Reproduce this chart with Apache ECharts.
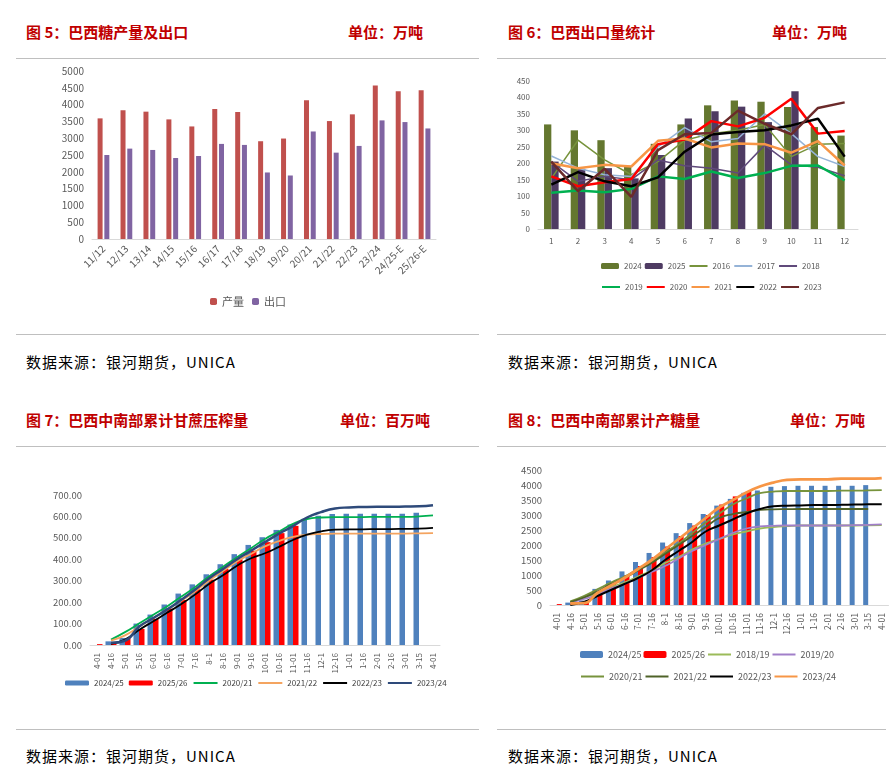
<!DOCTYPE html>
<html>
<head>
<meta charset="utf-8">
<script src="https://cdn.jsdelivr.net/npm/echarts@6/dist/echarts.min.js"></script>
<style>
  body { margin: 0; background: #fff; font-family: "Noto Sans CJK SC", sans-serif; }
  .t { position: absolute; color: #c00000; font-weight: bold; font-size: 15px; line-height: 20px; white-space: nowrap; }
  .s { position: absolute; color: #000; font-size: 15px; line-height: 20px; white-space: nowrap; letter-spacing: 1px; }
  .hr { position: absolute; height: 1px; background: #bfbfbf; }
  .c { position: absolute; }
</style>
</head>
<body>
<div class="t" style="left:26px;top:22px">图 5：巴西糖产量及出口</div>
<div class="t" style="left:348px;top:22px">单位：万吨</div>
<div class="t" style="left:508px;top:22px">图 6：巴西出口量统计</div>
<div class="t" style="left:772px;top:22px">单位：万吨</div>
<div class="hr" style="left:16px;top:58px;width:463px"></div>
<div class="hr" style="left:497px;top:58px;width:389px"></div>

<div class="c" id="c5" style="left:16px;top:60px;width:464px;height:272px"></div>
<div class="c" id="c6" style="left:497px;top:60px;width:390px;height:272px"></div>

<div class="hr" style="left:16px;top:334px;width:463px"></div>
<div class="hr" style="left:497px;top:334px;width:389px"></div>
<div class="s" style="left:26px;top:352px">数据来源：银河期货，UNICA</div>
<div class="s" style="left:508px;top:352px">数据来源：银河期货，UNICA</div>

<div class="t" style="left:26px;top:410px">图 7：巴西中南部累计甘蔗压榨量</div>
<div class="t" style="left:340px;top:410px">单位：百万吨</div>
<div class="t" style="left:508px;top:410px">图 8：巴西中南部累计产糖量</div>
<div class="t" style="left:790px;top:410px">单位：万吨</div>
<div class="hr" style="left:16px;top:446px;width:463px"></div>
<div class="hr" style="left:497px;top:446px;width:389px"></div>

<div class="c" id="c7" style="left:16px;top:448px;width:464px;height:281px"></div>
<div class="c" id="c8" style="left:497px;top:448px;width:397px;height:281px"></div>

<div class="hr" style="left:16px;top:729px;width:463px"></div>
<div class="hr" style="left:497px;top:729px;width:389px"></div>
<div class="s" style="left:26px;top:746px">数据来源：银河期货，UNICA</div>
<div class="s" style="left:508px;top:746px">数据来源：银河期货，UNICA</div>

<script>
// chart 5: production and exports
const seasons = ['11/12', '12/13', '13/14', '14/15', '15/16', '16/17', '17/18', '18/19', '19/20', '20/21', '21/22', '22/23', '23/24', '24/25-E', '25/26-E'];
const production = [3590, 3830, 3790, 3560, 3350, 3870, 3780, 2910, 2990, 4130, 3510, 3710, 4570, 4400, 4430];
const exports = [2500, 2690, 2650, 2410, 2470, 2830, 2800, 1980, 1890, 3200, 2570, 2770, 3530, 3480, 3290];

// chart 6: monthly exports
const months = ['1', '2', '3', '4', '5', '6', '7', '8', '9', '10', '11', '12'];
const exp2024 = [318, 300, 270, 192, 259, 318, 376, 391, 387, 371, 310, 284];
const exp2025 = [205, 183, 185, 154, 225, 336, 358, 372, 325, 419, null, null];
const exp2016 = [154, 270, 210, 165, 205, 270, 290, 300, 318, 220, 258, 260];
const exp2017 = [222, 185, 165, 160, 250, 308, 265, 275, 350, 290, 220, 190];
const exp2018 = [205, 145, 160, 150, 210, 192, 185, 170, 255, 195, 188, 162];
const exp2019 = [110, 117, 112, 122, 160, 152, 175, 155, 170, 192, 193, 148];
const exp2020 = [160, 130, 142, 152, 258, 272, 328, 312, 338, 396, 290, 298];
const exp2021 = [200, 185, 195, 190, 268, 275, 248, 260, 258, 232, 267, 193];
const exp2022 = [135, 173, 145, 130, 157, 235, 287, 295, 300, 315, 335, 220];
const exp2023 = [205, 115, 183, 98, 240, 288, 292, 360, 320, 288, 368, 385];

// charts 7 and 8: half-month periods
const periods = ['4-01', '4-16', '5-01', '5-16', '6-01', '6-16', '7-01', '7-16', '8-1', '8-16', '9-01', '9-16', '10-01', '10-16', '11-01', '11-16', '12-1', '12-16', '1-01', '1-16', '2-01', '2-16', '3-01', '3-15', '4-01'];

// chart 7: cumulative cane crush
const cane2425 = [0, 17, 33, 100, 142, 189, 240, 283, 330, 377, 424, 467, 503, 537, 562, 589, 603, 611, 612, 612, 612, 612, 612, 617, null];
const cane2526 = [4, 10, 30, 75, 122, 170, 210, 260, 305, 355, 400, 440, 480, 522, 556];
const cane2021 = [null, 25, 60, 100, 140, 180, 225, 270, 320, 365, 410, 452, 495, 530, 565, 588, 595, 597, 597, 597, 598, 598, 598, 600, 605];
const cane2122 = [null, 20, 45, 85, 125, 165, 205, 250, 300, 345, 390, 425, 460, 485, 505, 515, 518, 520, 520, 520, 520, 520, 520, 521, 522];
const cane2223 = [null, 5, 25, 70, 110, 150, 190, 235, 285, 325, 370, 405, 428, 458, 490, 515, 530, 538, 540, 540, 541, 541, 542, 543, 547];
const cane2324 = [null, 10, 20, 85, 125, 165, 210, 258, 310, 355, 400, 440, 480, 520, 555, 595, 620, 637, 642, 644, 645, 645, 646, 647, 652];

// chart 8: cumulative sugar output
const sugar2425 = [0, 80, 150, 537, 817, 1120, 1433, 1735, 2082, 2395, 2731, 3034, 3313, 3537, 3739, 3817, 3940, 3963, 3974, 3974, 3974, 3974, 3974, 3996, null];
const sugar2526 = [30, 50, 80, 400, 700, 1000, 1300, 1600, 1950, 2300, 2650, 3000, 3350, 3620, 3800];
const sugar1819 = [null, 100, 250, 400, 600, 750, 950, 1150, 1400, 1600, 1850, 2050, 2200, 2350, 2450, 2550, 2600, 2630, 2650, 2650, 2650, 2650, 2650, 2655, 2660];
const sugar1920 = [null, 80, 200, 350, 550, 700, 900, 1100, 1300, 1550, 1800, 2000, 2200, 2400, 2550, 2620, 2640, 2650, 2650, 2650, 2650, 2650, 2660, 2670, 2690];
const sugar2021 = [null, 120, 300, 520, 750, 950, 1200, 1450, 1750, 2050, 2400, 2750, 3050, 3350, 3550, 3730, 3780, 3800, 3800, 3800, 3800, 3810, 3810, 3820, 3830];
const sugar2122 = [null, 100, 250, 450, 700, 900, 1150, 1400, 1700, 2000, 2300, 2600, 2900, 3030, 3100, 3170, 3190, 3195, 3200, 3200, 3200, 3200, 3200, 3200, null];
const sugar2223 = [null, 0, 100, 300, 500, 700, 900, 1150, 1500, 1800, 2100, 2450, 2650, 2850, 3050, 3200, 3290, 3310, 3320, 3330, 3330, 3340, 3350, 3355, 3360];
const sugar2324 = [null, 50, 60, 400, 650, 900, 1200, 1500, 1850, 2200, 2550, 2900, 3250, 3500, 3750, 3950, 4080, 4170, 4190, 4190, 4190, 4210, 4210, 4210, 4230];

const FONT = '"Noto Sans CJK SC", sans-serif';
const LABEL = '#595959';
const AXIS = '#d9d9d9';

function catAxis(data, fontSize, rotate) {
	return {
		type: 'category',
		data: data,
		axisTick: { show: false },
		axisLine: { lineStyle: { color: AXIS } },
		axisLabel: { color: LABEL, fontSize: fontSize, rotate: rotate, interval: 0, fontFamily: FONT },
	};
}

function valAxis(max, interval, fontSize, formatter) {
	return {
		type: 'value',
		min: 0,
		max: max,
		interval: interval,
		splitLine: { show: false },
		axisLine: { show: false },
		axisLabel: { color: LABEL, fontSize: fontSize, fontFamily: FONT, formatter: formatter || ((v) => String(v)) },
	};
}

function line(name, data, color, width, smooth) {
	return {
		name: name,
		type: 'line',
		data: data,
		symbol: 'none',
		smooth: smooth,
		lineStyle: { color: color, width: width },
		// hide the dot that the legend icon draws in the middle of the line
		itemStyle: { color: color, opacity: 0 },
	};
}

function bar(name, data, color, width) {
	return { name: name, type: 'bar', data: data, barWidth: width, barGap: '0%', itemStyle: { color: color } };
}

function draw(id, option) {
	const chart = echarts.init(document.getElementById(id));
	option.animation = false;
	option.textStyle = { fontFamily: FONT };
	chart.setOption(option);
}

draw('c5', {
	grid: { left: 76, right: 44, top: 11, bottom: 93 },
	legend: {
		top: 231,
		left: 'center',
		itemWidth: 7,
		itemHeight: 7,
		itemGap: 8,
		textStyle: { color: LABEL, fontSize: 11 },
		data: ['产量', '出口'],
	},
	xAxis: catAxis(seasons, 10, 45),
	yAxis: valAxis(5000, 500, 10),
	series: [
		{ name: '产量', type: 'bar', data: production, barWidth: 5, barGap: '35%', itemStyle: { color: '#c0504d' } },
		{ name: '出口', type: 'bar', data: exports, barWidth: 5, barGap: '35%', itemStyle: { color: '#8064a2' } },
	],
});

const c6Legend = { left: 99, itemWidth: 18, itemHeight: 6, itemGap: 3, textStyle: { color: LABEL, fontSize: 8 } };
draw('c6', {
	grid: { left: 41, right: 29, top: 21, bottom: 103 },
	legend: [
		Object.assign({ top: 197, data: ['2024', '2025', '2016', '2017', '2018'] }, c6Legend),
		Object.assign({ top: 218, data: ['2019', '2020', '2021', '2022', '2023'] }, c6Legend),
	],
	xAxis: catAxis(months, 8, 0),
	yAxis: valAxis(450, 50, 8),
	series: [
		bar('2024', exp2024, '#64772f', 7.3),
		bar('2025', exp2025, '#4e3b62', 7.3),
		line('2016', exp2016, '#77933c', 1.5, false),
		line('2017', exp2017, '#95b3d7', 1.5, false),
		line('2018', exp2018, '#604a7b', 1.5, false),
		line('2019', exp2019, '#00b050', 2.5, false),
		line('2020', exp2020, '#ff0000', 2.5, false),
		line('2021', exp2021, '#f79646', 2.5, false),
		line('2022', exp2022, '#000000', 2.5, false),
		line('2023', exp2023, '#6b2a2a', 2.5, false),
	],
});

draw('c7', {
	grid: { left: 74, right: 40, top: 47, bottom: 84 },
	legend: {
		top: 226,
		left: 44,
		width: 420,
		itemWidth: 24,
		itemHeight: 5,
		itemGap: 5,
		textStyle: { color: '#404040', fontSize: 8 },
	},
	xAxis: catAxis(periods, 8, 90),
	yAxis: valAxis(700, 100, 9.5, (v) => v.toFixed(2)),
	series: [
		bar('2024/25', cane2425, '#4f81bd', 5.5),
		bar('2025/26', cane2526, '#ff0000', 5.5),
		line('2020/21', cane2021, '#00b050', 1.8, true),
		line('2021/22', cane2122, '#f4a460', 1.8, true),
		line('2022/23', cane2223, '#000000', 1.8, true),
		line('2023/24', cane2324, '#2e4a7a', 2.5, true),
	],
});

const c8Legend = { left: 78, itemWidth: 23, itemHeight: 7, itemGap: 2, textStyle: { color: LABEL, fontSize: 9 } };
draw('c8', {
	grid: { left: 53, right: 5.5, top: 22, bottom: 124 },
	legend: [
		Object.assign({ top: 197, data: ['2024/25', '2025/26', '2018/19', '2019/20'] }, c8Legend),
		Object.assign({ top: 219, data: ['2020/21', '2021/22', '2022/23', '2023/24'] }, c8Legend),
	],
	xAxis: catAxis(periods, 8.5, 90),
	yAxis: valAxis(4500, 500, 9.5),
	series: [
		bar('2024/25', sugar2425, '#4f81bd', 5),
		bar('2025/26', sugar2526, '#ff0000', 5),
		line('2018/19', sugar1819, '#9bbb59', 1.8, true),
		line('2019/20', sugar1920, '#a17fc9', 1.8, true),
		line('2020/21', sugar2021, '#77933c', 1.8, true),
		line('2021/22', sugar2122, '#4f6228', 1.8, true),
		line('2022/23', sugar2223, '#000000', 2, true),
		line('2023/24', sugar2324, '#f79646', 2.8, true),
	],
});
</script>
</body>
</html>
